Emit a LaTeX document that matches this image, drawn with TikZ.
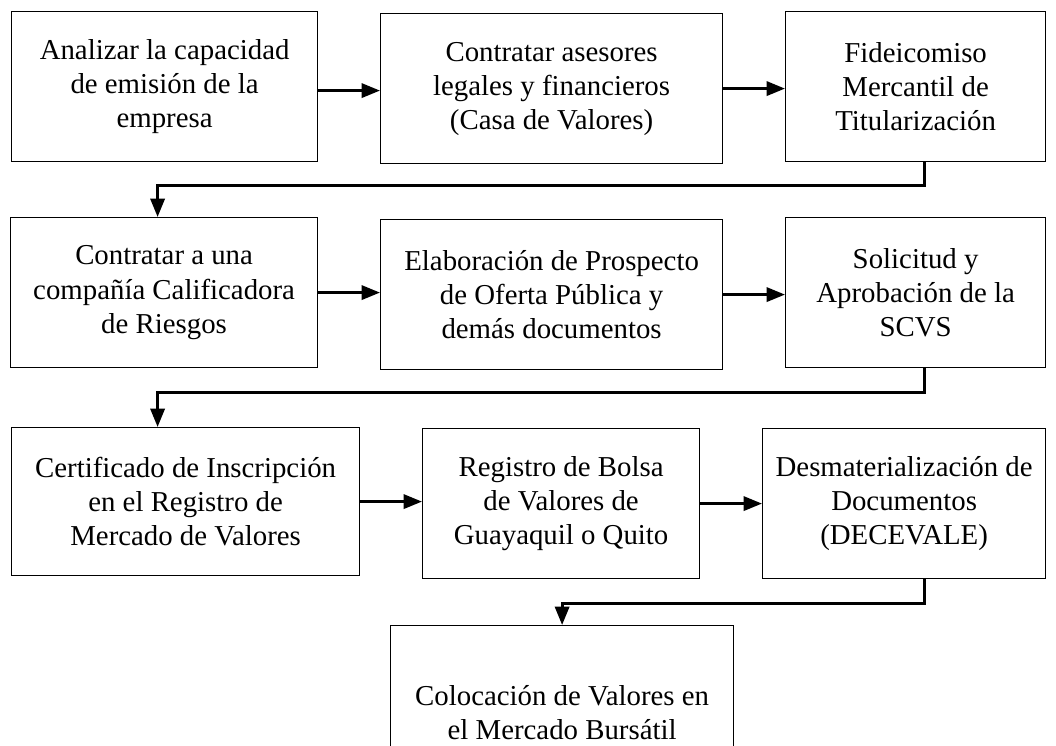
\documentclass[tikz,border=0pt]{standalone}
\usepackage{fontspec}
\setmainfont{Liberation Serif}
\usetikzlibrary{arrows.meta,calc}
\tikzset{
	caja/.style={draw, line width=0.8pt, rectangle, anchor=north west, inner sep=0pt, align=center, font=\fontsize{20.5}{24.2}\selectfont},
	flecha/.style={line width=2.1pt, -{Triangle[length=13pt,width=10pt]}},
}

\begin{document}
\begin{tikzpicture}[x=0.025cm, y=-0.025cm]
			\useasboundingbox (0,0) rectangle (1056,745);
			\clip (0,0) rectangle (1056,745);
			%%%%% FILA 1 %%%%%
			\node[caja, minimum width=7.65cm, minimum height=3.75cm] (analizar) at (11,11) {Analizar la capacidad\\de emisión de la\\empresa};
			\node[caja, minimum width=8.55cm, minimum height=3.75cm] (asesores) at (380,13) {Contratar asesores\\legales y financieros\\(Casa de Valores)};
			\node[caja, minimum width=6.5cm, minimum height=3.75cm] (fideicomiso) at (785,11) {Fideicomiso\\Mercantil de\\Titularización};
			
			%%%%% FILA 2 %%%%%
			\node[caja, minimum width=7.675cm, minimum height=3.75cm] (calificadora) at (10,217) {Contratar a una\\compañía Calificadora\\de Riesgos};
			\node[caja, minimum width=8.55cm, minimum height=3.75cm] (prospecto) at (380,219) {Elaboración de Prospecto\\de Oferta Pública y\\demás documentos};
			\node[caja, minimum width=6.5cm, minimum height=3.75cm] (solicitud) at (785,217) {Solicitud y\\Aprobación de la\\SCVS};
			
			%%%%% FILA 3 %%%%%
			\node[caja, minimum width=8.7cm, minimum height=3.7cm] (certificado) at (11,427) {Certificado de Inscripción\\en el Registro de\\Mercado de Valores};
			\node[caja, minimum width=6.925cm, minimum height=3.75cm] (bolsa) at (422,428) {Registro de Bolsa\\de Valores de\\Guayaquil o Quito};
			\node[caja, minimum width=7.075cm, minimum height=3.75cm] (desmat) at (762,428) {Desmaterialización de\\Documentos\\(DECEVALE)};
			
			%%%%% FILA 4 %%%%%
			\node[caja, minimum width=8.575cm, minimum height=4.35cm] (colocacion) at (390,625) {Colocación de Valores en\\el Mercado Bursátil};
			
			%%%%% FLECHAS %%%%%
			\draw[flecha] ([yshift=-0.1cm]analizar.east) -- ([yshift=-0.1cm]analizar.east -| asesores.west);
			\draw[flecha] (asesores.east) -- (asesores.east -| fideicomiso.west);
			\draw[flecha] ([xshift=0.225cm]fideicomiso.south) -- ++(0,23) -| ([xshift=-0.1625cm]calificadora.north);
			
			\draw[flecha] (calificadora.east) -- (calificadora.east -| prospecto.west);
			\draw[flecha] (prospecto.east) -- (prospecto.east -| solicitud.west);
			\draw[flecha] ([xshift=0.225cm]solicitud.south) -- ++(0,24) -| ([xshift=-0.7cm]certificado.north);
			
			\draw[flecha] (certificado.east) -- (certificado.east -| bolsa.west);
			\draw[flecha] (bolsa.east) -- (bolsa.east -| desmat.west);
			\draw[flecha] ([xshift=0.51cm]desmat.south) -- ++(0,24) -| (colocacion.north);
\end{tikzpicture}
\end{document}
